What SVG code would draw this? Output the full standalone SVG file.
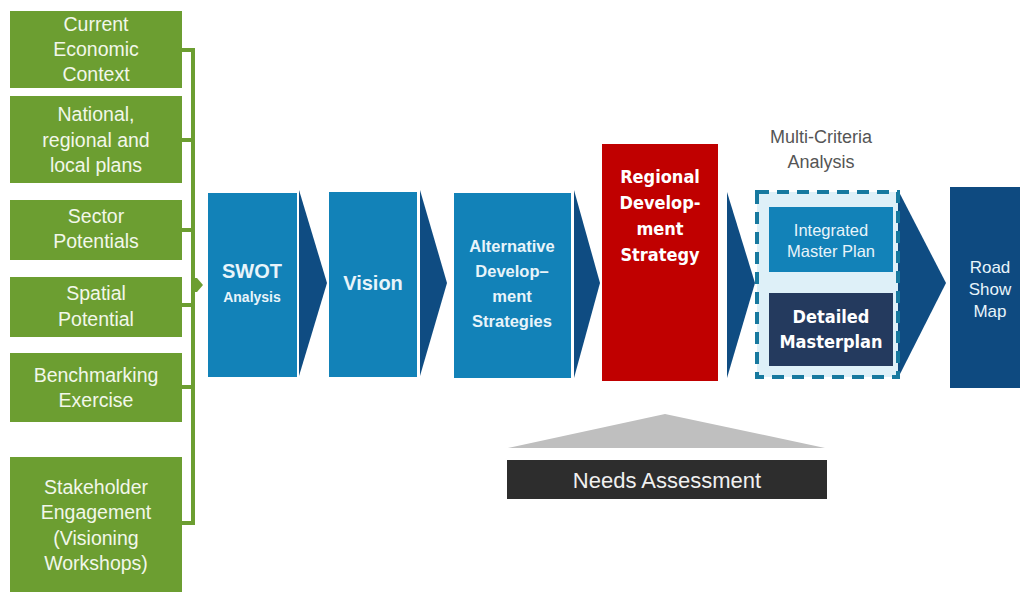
<svg xmlns="http://www.w3.org/2000/svg" width="1020" height="592" viewBox="0 0 1020 592">
<defs>
<style>
.g{fill:#6c9e31}
.gt{font-family:"Liberation Sans",Arial,sans-serif;font-size:19.5px;fill:#f2f7ea;text-anchor:middle}
.b{fill:#1282b8}
.bt{font-family:"Liberation Sans",Arial,sans-serif;font-weight:bold;fill:#e8f4fa;text-anchor:middle}
.nt{font-family:"Liberation Sans",Arial,sans-serif;fill:#e8f4fa;text-anchor:middle}
.arr{fill:#0f4c82}
.rt{font-family:"DejaVu Sans Condensed","DejaVu Sans",sans-serif;font-weight:bold;font-size:18px;fill:#ffffff;text-anchor:middle}
.br{fill:none;stroke:#6c9e31;stroke-width:4}
</style>
</defs>
<rect width="1020" height="592" fill="#ffffff"/>

<g id="connectors">
<path class="br" d="M182 50 H193 V523 H182 M182 140 H193 M182 230 H193 M182 305 H193 M182 387 H193"/>
<path d="M191 278 L197 278 L203 285 L197 292 L191 292 Z" fill="#6c9e31"/>
<polygon class="arr" points="299,190 327,283 299,376"/>
<polygon class="arr" points="420,190 447,283 420,376"/>
<polygon class="arr" points="574,190 600,283 574,378"/>
<polygon class="arr" points="727,192 755,283 727,378"/>
<polygon class="arr" points="898,190 946,283 898,378"/>
</g>

<g id="n-current"><rect class="g" x="10" y="11" width="172" height="77"/>
<text class="gt" x="96" y="31">Current</text><text class="gt" x="96" y="56">Economic</text><text class="gt" x="96" y="81">Context</text></g>
<g id="n-national"><rect class="g" x="10" y="96" width="172" height="87"/>
<text class="gt" x="96" y="121">National,</text><text class="gt" x="96" y="147">regional and</text><text class="gt" x="96" y="172">local plans</text></g>
<g id="n-sector"><rect class="g" x="10" y="200" width="172" height="60"/>
<text class="gt" x="96" y="223">Sector</text><text class="gt" x="96" y="248">Potentials</text></g>
<g id="n-spatial"><rect class="g" x="10" y="277" width="172" height="60"/>
<text class="gt" x="96" y="300">Spatial</text><text class="gt" x="96" y="326">Potential</text></g>
<g id="n-bench"><rect class="g" x="10" y="353" width="172" height="69"/>
<text class="gt" x="96" y="382">Benchmarking</text><text class="gt" x="96" y="407">Exercise</text></g>
<g id="n-stake"><rect class="g" x="10" y="457" width="172" height="135"/>
<text class="gt" x="96" y="494">Stakeholder</text><text class="gt" x="96" y="519">Engagement</text><text class="gt" x="96" y="545">(Visioning</text><text class="gt" x="96" y="570">Workshops)</text></g>

<g id="n-swot"><rect class="b" x="208" y="193" width="89" height="184"/>
<text class="bt" x="252" y="278" font-size="20">SWOT</text><text class="bt" x="252" y="302" font-size="14">Analysis</text></g>
<g id="n-vision"><rect class="b" x="329" y="192" width="88" height="185"/>
<text class="bt" x="373" y="290" font-size="20">Vision</text></g>
<g id="n-alt"><rect class="b" x="454" y="193" width="117" height="185"/>
<text class="bt" x="512" y="252" font-size="16.5">Alternative</text><text class="bt" x="512" y="277" font-size="16.5">Develop–</text><text class="bt" x="512" y="302" font-size="16.5">ment</text><text class="bt" x="512" y="327" font-size="16.5">Strategies</text></g>
<g id="n-regional"><rect x="602" y="144" width="116" height="237" fill="#c00000"/>
<text class="rt" x="660" y="183">Regional</text><text class="rt" x="660" y="209">Develop-</text><text class="rt" x="660" y="235">ment</text><text class="rt" x="660" y="261">Strategy</text></g>

<g id="n-mca">
<text x="821" y="143" font-family="Liberation Sans,Arial,sans-serif" font-size="18" fill="#555555" text-anchor="middle">Multi-Criteria</text>
<text x="821" y="168" font-family="Liberation Sans,Arial,sans-serif" font-size="18" fill="#555555" text-anchor="middle">Analysis</text>
<rect x="757" y="192" width="141" height="185" fill="#def0f8" stroke="#17799f" stroke-width="4" stroke-dasharray="12 8"/>
</g>
<g id="n-imp"><rect class="b" x="769" y="207" width="124" height="65"/>
<text class="nt" x="831" y="236" font-size="16.5">Integrated</text>
<text class="nt" x="831" y="257" font-size="16.5">Master Plan</text></g>
<g id="n-detailed"><rect x="769" y="293" width="124" height="73" fill="#243a5e"/>
<text class="rt" x="831" y="323">Detailed</text><text class="rt" x="831" y="348">Masterplan</text></g>
<g id="n-road"><rect x="950" y="187" width="70" height="201" fill="#0e4a80"/>
<text class="nt" x="990" y="273" font-size="17">Road</text>
<text class="nt" x="990" y="295" font-size="17">Show</text>
<text class="nt" x="990" y="317" font-size="17">Map</text></g>

<g id="n-needs">
<polygon points="508,448 665,414 825,448" fill="#bfbfbf"/>
<rect x="507" y="460" width="320" height="39" fill="#2d2d2d"/>
<text x="667" y="488" font-family="Liberation Sans,Arial,sans-serif" font-size="22" fill="#f0f0f0" text-anchor="middle">Needs Assessment</text>
</g>
</svg>
